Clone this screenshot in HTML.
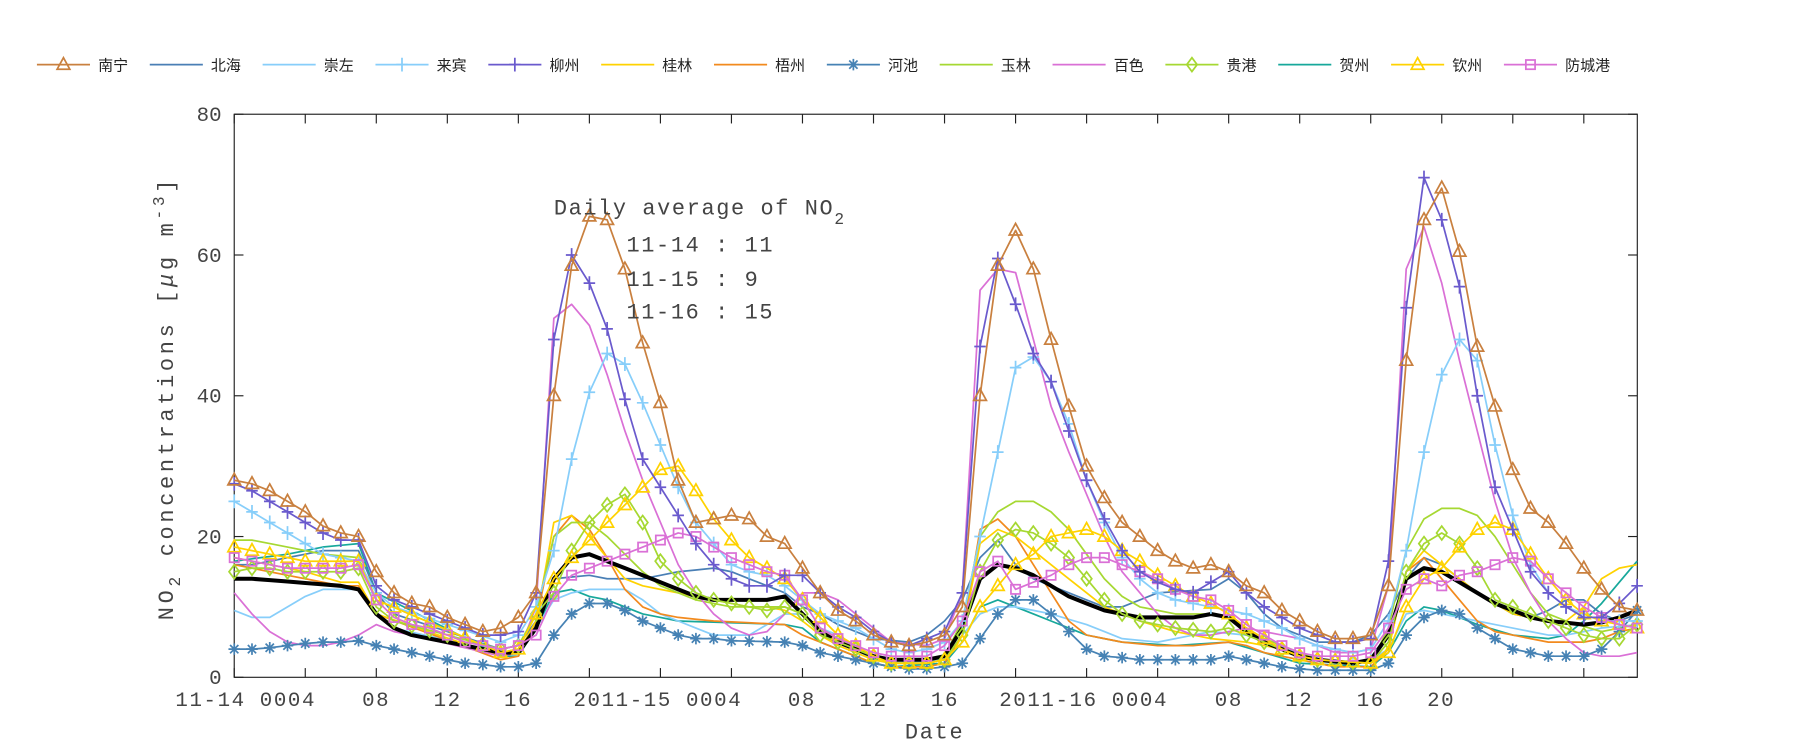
<!DOCTYPE html>
<html><head><meta charset="utf-8"><style>
html,body{margin:0;padding:0;background:#fff;}
svg{display:block;}
text{font-family:"Liberation Mono","DejaVu Sans Mono",monospace;fill:#444;}
.lg{font-family:"Liberation Sans","Noto Sans CJK SC",sans-serif;font-size:13px;fill:#222;letter-spacing:0;}
</style></head><body>
<svg id="s" width="1800" height="750" viewBox="0 0 1560 650" preserveAspectRatio="none" xmlns="http://www.w3.org/2000/svg">
<rect x="203" y="99" width="1216" height="488" fill="#fff" stroke="#222" stroke-width="1"/>
<g id="ticks"></g>
<g id="series"></g>
<g id="legend"></g>
<g font-size="18">
<text x="192" y="593" text-anchor="end">0</text>
<text x="192" y="471" text-anchor="end">20</text>
<text x="192" y="349" text-anchor="end">40</text>
<text x="192" y="227" text-anchor="end">60</text>
<text x="192" y="105" text-anchor="end">80</text>
<g letter-spacing="1.4">
<text x="152" y="612">11-14 0004</text>
<text x="326" y="612" text-anchor="middle">08</text>
<text x="388" y="612" text-anchor="middle">12</text>
<text x="449" y="612" text-anchor="middle">16</text>
<text x="497" y="612">2011-15 0004</text>
<text x="695" y="612" text-anchor="middle">08</text>
<text x="757" y="612" text-anchor="middle">12</text>
<text x="819" y="612" text-anchor="middle">16</text>
<text x="866" y="612">2011-16 0004</text>
<text x="1065" y="612" text-anchor="middle">08</text>
<text x="1126" y="612" text-anchor="middle">12</text>
<text x="1188" y="612" text-anchor="middle">16</text>
<text x="1249" y="612" text-anchor="middle">20</text>
</g>
<text x="810" y="640" text-anchor="middle" font-size="19" letter-spacing="1.5">Date</text>
<text transform="translate(150,345) rotate(-90)" text-anchor="middle" font-size="19" letter-spacing="3.2">NO<tspan font-size="14" dy="6">2</tspan><tspan dy="-6"> concentrations [</tspan><tspan font-style="italic">μ</tspan><tspan>g m</tspan><tspan font-size="14" dy="-8">-3</tspan><tspan dy="8">]</tspan></text>
<g letter-spacing="1.4">
<text x="480" y="186" font-size="19">Daily average of NO<tspan font-size="14" dy="8">2</tspan></text>
<text x="543" y="218" font-size="19">11-14 : 11</text>
<text x="543" y="248" font-size="19">11-15 : 9</text>
<text x="543" y="276" font-size="19">11-16 : 15</text>
</g>
</g>
</svg>
<script>
var NS="http://www.w3.org/2000/svg";
function X(h){return 203+h*15.39;}
function Y(v){return 587-v*6.1;}
function el(t,a,p){var e=document.createElementNS(NS,t);for(var k in a)e.setAttribute(k,a[k]);p.appendChild(e);return e;}
var T=document.getElementById('ticks');
for(var h=0;h<=76;h+=4){el('line',{x1:X(h),x2:X(h),y1:587,y2:579,stroke:'#222'},T);el('line',{x1:X(h),x2:X(h),y1:99,y2:107,stroke:'#222'},T);}
for(var v=0;v<=80;v+=20){el('line',{x1:203,x2:211,y1:Y(v),y2:Y(v),stroke:'#222'},T);el('line',{x1:1419,x2:1411,y1:Y(v),y2:Y(v),stroke:'#222'},T);}
function full(kp){var a=[];for(var i=0;i<kp.length-2;i+=2){var h0=kp[i],v0=kp[i+1],h1=kp[i+2],v1=kp[i+3];for(var h=h0;h<h1;h++)a.push(v0+(v1-v0)*(h-h0)/(h1-h0));}a.push(kp[kp.length-1]);return a;}
var S=[
{n:'贺州',c:'#17a89b',m:'',d:full([0,16.5,3,17.5,5,18.5,7,19,8,12,15,3,16,3,17,7,18,12,19,12.5,20,11.5,21,11,22,10,23,9,25,8,31,7.5,32,7,33,5,35,3,36,2,37,1.5,40,2,41,5,42,10,43,11,44,10,47,7,48,6,50,5,53,4.5,56,5,58,3.5,60,2,64,1.5,65,3.5,66,8,67,10,68,9.5,70,7.5,72,6,74,5.5,75,6,76,8,77,10.5,78,13.5,79,16.5])},
{n:'崇左',c:'#87cefa',m:'',d:full([0,9.5,1,8.5,2,8.5,3,10,4,11.5,5,12.5,7,12.5,8,9,9,7,15,3.5,16,4,17,7,18,11,19,12,20,12.5,22,12.5,23,11,24,9,25,8,26,7,27,6,29,6,30,7.5,31,9,32,9,33,7,34,6,35,4,36,2.5,37,2,40,2.5,41,6,42,9,43,10,44,10,46,9,48,7.5,50,5.5,52,5,54,6,55,6.5,57,6,58,5,62,2,64,2.5,65,4,66,9,67,9.5,69,8.5,72,7,74,6,75,6,77,7,79,7.5])},
{n:'北海',c:'#4a7fb5',m:'',d:full([0,16,1,16,3,17,5,18,7,18,8,12,9,9,15,4,16,4.5,17,8,18,14,20,14.5,21,14,23,14,25,15,27,15.5,28,15,30,13,31,12,32,10,33,9,34,7.5,35,6.5,36,5.5,38,5,39,6,40,8,41,11,42,17,43,19.5,44,16,45,14,47,12,49,10,50,10,51,11,52,12,55,12.5,56,14,57,12,58,9,59,7,60,6,61,5,63,5,64,6,65,9,66,14,67,17,68,16,70,12,72,9,73,8.5,74,9.5,75,11,76,11,77,9,78,8,79,9])},
{n:'梧州',c:'#f28a1e',m:'',d:full([0,16,4,14,6,13,7,13,8,9,15,2.5,16,3,17,8,18,20,19,23,20,21,21,17,22,12.5,23,10,24,9,25,8.5,27,8,31,7.5,32,6,33,5,34,4,35,3,36,2,37,1.5,39,1.5,40,2,41,6,42,21,43,22.5,44,20,45,16,46,12,47,8,48,6,50,5,52,4.5,54,4.5,56,5,57,4.5,58,3.5,60,2.5,62,1.5,64,1.5,65,4,66,15,67,17,68,14,69,11,70,8,71,6.5,72,6,74,5,76,5,77,5.5,78,6.5,79,7])},
{n:'桂林',c:'#ffd200',m:'',d:full([0,17,4,15,6,13.5,7,13.5,8,9,15,3,16,3.5,17,8,18,22,19,23,20,20,21,17,22,14,23,13,25,12,27,11,29,10,30,10,31,9.5,32,8,33,6,34,4.5,35,3.5,36,2.5,37,2,39,2,40,2.5,41,6,42,19,43,21,44,20,45,18,47,14,48,12,49,10,51,8,53,6.5,55,5.5,57,5,59,4,60,3,61,2.5,64,2,65,4,66,15,67,18,68,16,70,12,72,9,74,8,75,8,76,10,77,14,78,15.5,79,16])},
{n:'玉林',c:'#a6d832',m:'',d:full([0,19.5,1,19.5,3,18.5,5,17.5,7,17,8,11,15,3.5,16,4,17,9,18,20,19,22,20,22,21,20,22,17.5,23,15,24,13,25,12,26,11,28,10,31,10,32,9,33,7,34,5.5,35,4,36,3,37,2.5,39,2.5,40,3,41,8,42,20,43,23.5,44,25,45,25,46,23.5,47,21,48,17.5,49,14,50,11.5,51,10,53,9,55,9,56,8.5,57,7,58,5.5,59,4.5,60,3.5,61,2.5,64,2,65,7,66,18,67,22.5,68,24,69,24,70,23,71,20,72,16,73,12,74,9,75,8,77,6.5,78,7,79,7.5])},
{n:'百色',c:'#da70d6',m:'',d:full([0,12,1,9,2,6.5,3,5,4,4.5,5,4.5,6,5,7,6,8,7.5,9,6.5,10,6,15,3,16,3.5,17,10,18,51,19,53,20,50,21,43,22,35,23,28,24,22,25,16,26,12,27,9,28,7,29,6,30,6.5,31,9,32,12,33,12,34,11,35,9,36,7,37,5,39,4.5,40,5.5,41,12,42,55,43,58,44,57.5,45,48,46,38.5,47,32,48,26,49,20,50,15,51,12,52,9,53,7,54,6,55,6,57,7,58,6.5,60,5.5,61,4.5,62,3.5,63,3.5,64,4,65,13,66,58,67,64,68,56,69,45,70,35,71,25,72,17,73,12,74,8,75,5.5,76,3.5,77,3,78,3,79,3.5])},
{n:'avg',c:'#000',m:'',w:3.5,d:full([0,14,1,14,4,13.4,6,13,7,12.5,8,9,9,7,10,6,12,5,14,4,15,3.5,16,3.5,17,7,18,14,19,17,20,17.5,21,16.5,22,15.5,25,12.5,26,11.5,27,11,30,11,31,11.5,32,9,33,6.5,34,5,35,4,36,3,37,2.5,39,2.5,40,3,41,7,42,14,43,16,44,15.5,45,14.5,46,13,47,11.5,48,10.5,49,9.5,50,9,51,8.5,54,8.5,55,9,56,8.5,57,6.5,58,5,59,4,60,3,61,2.5,63,2,64,2.5,65,6,66,14,67,15.5,68,15,69,13.5,70,12,71,10.5,72,9.5,73,8.5,74,8,76,7.5,77,7.8,78,8.5,79,9.5])},
{n:'河池',c:'#4682b4',m:'ast',d:full([0,4,1,4,2,4.2,3,4.5,4,4.8,5,5,6,5,7,5.2,8,4.5,9,4,10,3.5,11,3,12,2.5,13,2,14,1.8,15,1.5,16,1.5,17,2,18,6,19,9,20,10.5,21,10.5,22,9.5,23,8,24,7,25,6,26,5.5,27,5.5,28,5.2,31,5,32,4.5,33,3.5,34,3,35,2.5,36,2,37,1.5,38,1.2,39,1.2,40,1.5,41,2,42,5.5,43,9,44,11,45,11,46,9,47,6.5,48,4,49,3,50,2.8,51,2.5,55,2.5,56,3,57,2.5,58,2,59,1.5,60,1.2,61,1,64,1,65,2,66,6,67,8.5,68,9.5,69,9,70,7,71,5.5,72,4,73,3.5,74,3,76,3,77,4,78,6.5,79,9.5])},
{n:'贵港',c:'#a6d832',m:'dia',d:full([0,15,1,15.5,2,15.5,3,15,6,15,7,15.5,8,10,9,8,15,4,16,4.5,17,9,18,12,19,18,20,22,21,24.5,22,26,23,22,24,16.5,25,14,26,12,27,11,28,10.5,29,10,30,9.5,31,10,32,9,33,6,34,5,35,4,36,3,37,2,39,2,40,2.5,41,6,42,15,43,19.5,44,21,45,20.5,46,19,47,17,48,14,49,11,50,9,51,8,52,7.5,53,7,55,6.5,56,7,57,6,58,5,59,4,60,3,61,2.5,64,2,65,5,66,15,67,19,68,20.5,69,19,70,15.5,71,11,72,10,73,9,74,8,75,7,76,6,77,5.5,78,5.5,79,7.5])},
{n:'来宾',c:'#87cefa',m:'plus',d:full([0,25,1,23.5,2,22,3,20.5,4,19,5,17.5,6,17,7,16.5,8,12,9,10,15,5,16,6,17,10,18,18,19,31,20,40.5,21,46,22,44.5,23,39,24,33,25,27,26,22,27,19,28,16,29,15,30,14.5,31,13,32,11,33,9,34,8,35,7,36,5.5,37,4,38,3.5,39,4,40,5,41,8,42,20,43,32,44,44,45,45.5,46,42,47,36,48,28,49,22,50,17,51,14,52,12,53,11,55,10,56,9.5,57,9,58,8,59,7,60,5.5,61,4.5,63,3.5,64,4,65,8,66,18,67,32,68,43,69,48,70,45,71,33,72,23,73,16,74,12,75,10,76,9,77,8,79,8])},
{n:'钦州',c:'#ffd200',m:'tri',d:full([0,18.5,1,18,2,17.5,3,17,4,16.5,7,16.5,8,11,15,3.5,16,4,17,9,18,14,19,17,20,19.5,21,22,22,24.5,23,27,24,29.5,25,30,26,26.5,27,22.5,28,19.5,29,17,30,15.5,31,14,32,11,33,8.5,34,6,35,4.5,36,3,37,2,39,2,40,2.5,41,5,42,10,43,13,44,16,45,17.5,46,20,47,20.5,48,21,49,20,50,18,51,16.5,52,14.5,53,13,54,11.5,55,10.5,56,9,57,7,58,5.5,59,4,60,3,61,2.5,64,2,65,3.5,66,10,67,14,68,15.5,69,18.5,70,21,71,22,72,21,73,17.5,74,14,75,11,76,9,77,8,78,7.5,79,7])},
{n:'防城港',c:'#da70d6',m:'sq',d:full([0,17,1,16.5,2,16,3,15.5,6,15.5,7,16,8,11,9,8.5,10,7.5,11,7,12,6,13,5,14,4.5,15,4,16,4.5,17,6,18,11.5,19,14.5,20,15.5,21,16.5,22,17.5,23,18.5,24,19.5,25,20.5,26,20,27,18.5,28,17,29,16,30,15,31,14.5,32,11,33,7,34,5.5,35,4.5,36,3.5,37,3,39,3,40,4.5,41,8,42,15,43,16.5,44,12.5,45,13.5,46,14.5,47,16,48,17,49,17,50,16,51,15,52,14,53,12.5,54,11.5,55,11,56,9.5,57,7.5,58,6,59,4.5,60,3.5,61,3,63,3,64,3.5,65,7,66,12.5,67,14,68,13,69,14.5,70,15,71,16,72,17,73,16.5,74,14,75,12,76,10,77,8.5,78,7.5,79,7])},
{n:'柳州',c:'#6a5acd',m:'plus',d:full([0,27.5,1,26.5,2,25,3,23.5,4,22,5,20.5,6,19.5,7,19.5,8,13,9,11,10,10,11,9,12,8,13,7,14,6,15,6,16,6.5,17,12,18,48,19,60,20,56,21,49.5,22,39.5,23,31,24,27,25,23,26,19,27,16,28,14,29,13,30,13,31,14.5,32,14.5,33,12,34,10,35,8.5,36,6.5,37,5,38,4.5,39,5.5,40,6.5,41,12,42,47,43,59.5,44,53,45,46,46,42,47,35,48,28,49,22.5,50,18,51,15,52,13.5,53,12.5,54,12,55,13.5,56,15,57,12,58,10,59,8.5,60,7,61,6,62,5,63,5,64,5.5,65,16.5,66,52.5,67,71,68,65,69,55.5,70,40,71,27,72,21,73,15,74,12,75,10,76,8.5,77,8.5,78,10.5,79,13])},
{n:'南宁',c:'#c9803f',m:'tri',d:[28,27.5,26.5,25,23.5,21.5,20.5,20,15,12,10.5,10,8.5,7.5,6.5,7,8.5,12,40,58.5,65.5,65,58,47.5,39,28,22,22.5,23,22.5,20,19,15.5,12,9.5,8,6,5,4.5,5,6,10,40,58.5,63.5,58,48,38.5,30,25.5,22,20,18,16.5,15.5,16,15,13,12,9.5,8,6.5,5.5,5.5,6,13,45,65,69.5,60.5,47,38.5,29.5,24,22,19,15.5,12.5,10,9.5]}
];
function marker(m,x,y,c,p){
 if(m=='tri')el('polygon',{points:(x)+','+(y-6)+' '+(x-5.5)+','+(y+4)+' '+(x+5.5)+','+(y+4),fill:'none',stroke:c,'stroke-width':1.5},p);
 else if(m=='plus'){el('path',{d:'M'+(x-5)+' '+y+'H'+(x+5)+'M'+x+' '+(y-6)+'V'+(y+6),stroke:c,'stroke-width':1.5},p);}
 else if(m=='ast'){el('path',{d:'M'+(x-5)+' '+y+'H'+(x+5)+'M'+x+' '+(y-5)+'V'+(y+5)+'M'+(x-3.6)+' '+(y-3.6)+'L'+(x+3.6)+' '+(y+3.6)+'M'+(x-3.6)+' '+(y+3.6)+'L'+(x+3.6)+' '+(y-3.6),stroke:c,'stroke-width':1.5},p);}
 else if(m=='dia')el('polygon',{points:x+','+(y-6)+' '+(x+4.5)+','+y+' '+x+','+(y+6)+' '+(x-4.5)+','+y,fill:'none',stroke:c,'stroke-width':1.5},p);
 else if(m=='sq')el('rect',{x:x-4,y:y-4,width:8,height:8,fill:'none',stroke:c,'stroke-width':1.5},p);
}
var G=document.getElementById('series');
S.forEach(function(s){
 var pts=s.d.map(function(v,i){return X(i).toFixed(1)+','+Y(v).toFixed(1)}).join(' ');
 el('polyline',{points:pts,fill:'none',stroke:s.c,'stroke-width':s.w||1.5,'stroke-linejoin':'round'},G);
 if(s.m)s.d.forEach(function(v,i){marker(s.m,X(i),Y(v),s.c,G)});
});
var L=document.getElementById('legend');
var leg=[['南宁','#c9803f','tri'],['北海','#4a7fb5',''],['崇左','#87cefa',''],['来宾','#87cefa','plus'],['柳州','#6a5acd','plus'],['桂林','#ffd200',''],['梧州','#f28a1e',''],['河池','#4682b4','ast'],['玉林','#a6d832',''],['百色','#da70d6',''],['贵港','#a6d832','dia'],['贺州','#17a89b',''],['钦州','#ffd200','tri'],['防城港','#da70d6','sq']];
leg.forEach(function(l,i){var x0=36+i*97.8;el('line',{x1:x0-4,x2:x0+42,y1:56,y2:56,stroke:l[1],'stroke-width':1.5},L);if(l[2])marker(l[2],x0+19,56,l[1],L);var t=el('text',{x:x0+49,y:61,'class':'lg'},L);t.textContent=l[0];});
</script>
</body></html>
